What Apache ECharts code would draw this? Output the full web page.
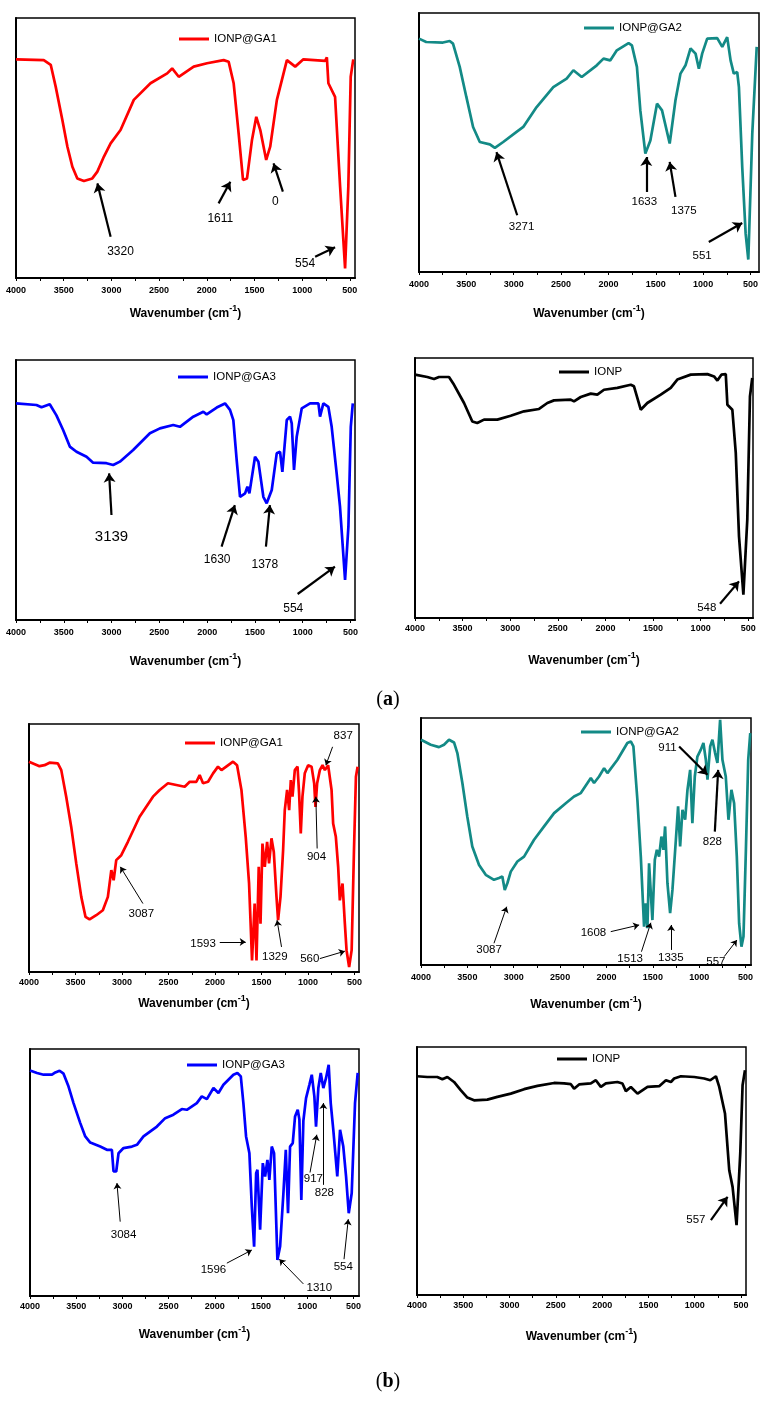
<!DOCTYPE html>
<html><head><meta charset="utf-8">
<script src="https://cdn.jsdelivr.net/npm/echarts@6/dist/echarts.min.js"></script>
<style>html,body{margin:0;padding:0;background:#fff}#c{width:769px;height:1401px}</style>
</head><body><div id="c"></div>
<script>
// ---------- tick labels ----------
const X_TICK_LABELS = [500,1000,1500,2000,2500,3000,3500,4000];
const X_MINOR_TICKS = [500,750,1000,1250,1500,1750,2000,2250,2500,2750,3000,3250,3500,3750,4000];

// ---------- series names ----------
const NAMES = ['IONP@GA1','IONP@GA2','IONP@GA3','IONP','IONP@GA1','IONP@GA2','IONP@GA3','IONP'];

// ---------- (a) IONP@GA1 ----------
const A1_WN = [4000,3709,3636,3584,3514,3461,3409,3357,3288,3200,3147,3078,3008,2904,2765,2590,2415,2363,2294,2137,1997,1823,1771,1718,1666,1620,1578,1526,1481,1439,1377,1335,1265,1160,1073,987,759,741,725,655,602,550,516,491,464];
const A1_T  = [84.1,83.8,82,73.6,60.8,50.5,42.8,38.3,37.3,38.3,40.9,46.7,51.8,56.9,68.5,74.9,78.7,80.6,77.4,81.3,82.6,83.8,83.2,74.9,55.6,37.7,38.3,53.1,62,56.9,45.4,50.5,68.5,83.8,81.3,84.1,83.5,84.9,74.9,69.7,35.1,3.7,35.1,77.4,84.1];
const A1_LABELS = [['3320',2904,10.1],['1611',1858,23.0],['0',1282,29.3],['554',969,5.6]];
const A1_ARROWS = [[3008,15.9,3147,36.4],[1876,28.7,1753,37.0],[1202,33.2,1300,44.1],[864,8.2,655,11.8]];

// ---------- (a) IONP@GA2 ----------
const A2_WN = [4000,3924,3747,3676,3641,3570,3500,3429,3358,3252,3199,3111,2970,2899,2758,2582,2441,2370,2282,2123,2052,1981,1911,1787,1752,1699,1663,1610,1557,1487,1434,1353,1292,1239,1186,1133,1080,1045,1010,957,851,798,746,710,676,640,622,587,551,523,481,434];
const A2_T  = [90.1,88.8,88.6,89.2,88.2,79.2,67.6,56,50.2,49.3,47.9,50.2,54.1,56,63.7,71.4,74.7,77.9,75.3,79.8,82.4,81.7,85.6,88.4,87.5,79.2,62.4,45.7,50.8,65,62.4,49.6,66.3,76.6,79.8,86.3,84.3,78.5,84.3,90.1,90.3,86.9,90.7,81.7,76.6,77.2,71.4,40.5,14.8,4.8,53.4,86.9];
const A2_LABELS = [['3271',2917,17.4],['1633',1621,27],['1375',1204,23.8],['551',1011,6.4]];
const A2_ARROWS = [[2963,21.9,3182,46.3],[1600,30.9,1600,44.4],[1292,29,1353,42.5],[940,11.6,587,18.9]];

// ---------- (a) IONP@GA3 ----------
const A3_WN = [4000,3786,3733,3647,3577,3507,3437,3367,3262,3193,3053,2983,2913,2774,2599,2494,2355,2285,2145,2040,2005,1900,1813,1761,1726,1691,1656,1603,1579,1558,1499,1464,1412,1377,1324,1272,1237,1213,1167,1133,1115,1091,1063,1010,923,836,819,784,732,697,680,645,610,557,522,497,476];
const A3_T  = [83.3,82.7,81.8,83,78.7,73.1,66.7,64.7,62.8,60.5,60.3,59.6,60.9,65.4,71.8,73.7,75,74.3,78.2,80.1,79.1,81.7,83.3,80.8,76.9,61.5,47.4,48.7,51.3,48.7,62.8,60.9,47.4,44.9,50,64.1,64.7,57,76.9,78.2,75.6,57.7,70.5,81.4,83.3,83.3,78.2,83.3,82,74.3,74.6,56.4,43.6,15.4,35.9,74.3,83.3];
const A3_LABELS = [['3139',3001,32],['1630',1895,23.1],['1378',1396,21.2],['554',1099,4.5]];
const A3_ARROWS = [[3001,40.4,3026,56.4],[1849,28.2,1710,44.2],[1385,28.2,1343,44.2],[1053,10,663,20.5]];

// ---------- (a) IONP ----------
const A4_WN = [4000,3871,3800,3748,3643,3590,3485,3398,3346,3275,3135,2995,2855,2697,2610,2540,2365,2330,2259,2154,2085,2015,1875,1734,1700,1629,1560,1419,1314,1245,1104,929,859,824,782,736,719,667,631,597,551,510,482,458];
const A4_T  = [93.6,92.7,91.9,92.7,92.7,89.7,82.7,75.6,75,76.3,76.3,77.8,79.5,80.4,82.7,83.7,84,83.3,85,86.3,85.9,87.8,88.5,89.7,89.1,80.1,82.7,85.9,88.5,91.7,93.6,93.8,92.9,91.3,93.6,93.8,82,80.1,63.5,31.4,9,37.8,85.2,92.3];
const A4_LABELS = [['548',936,3.8]];
const A4_ARROWS = [[796,5.5,597,14.1]];

// ---------- (b) IONP@GA1 ----------
const B1_WN = [4000,3887,3833,3779,3690,3653,3600,3546,3492,3438,3392,3349,3277,3206,3152,3115,3090,3062,3008,2937,2811,2667,2595,2506,2416,2326,2272,2200,2165,2129,2075,2021,1968,1931,1806,1763,1716,1670,1634,1602,1574,1554,1530,1511,1490,1465,1440,1419,1393,1368,1339,1322,1296,1268,1250,1225,1203,1185,1167,1142,1113,1096,1078,1060,1035,999,962,934,920,902,873,844,819,784,747,730,701,676,658,629,604,586,558,531,506,485,467];
const B1_T  = [84.8,83,83.4,84.4,84.1,81.4,70.7,58.5,43.8,30.3,22.2,21.2,22.9,24.9,30.3,41.1,37,45.1,47.1,52.5,62.6,70.7,73.4,76.1,75.4,74.7,76.7,76.7,79.4,76.1,76.7,80.1,82.8,81.4,84.8,83.4,73.4,54.5,35.7,4.7,27.6,4.7,42.4,19.5,51.8,42.4,52.5,43.8,53.9,48.4,30.3,20.9,30.3,49.1,65.3,73.4,65.3,77.4,70.7,81.4,82.8,72,55.9,70.7,80.1,83.4,82.8,76.1,66.6,76.1,81.4,83.4,81.4,83.4,73.4,59.9,54.5,42.4,28.9,35.7,19.5,8.8,2,8.8,49.1,78.7,82.8];
const B1_LABELS = [['3087',2792,23.6],['1593',2129,11.5],['1329',1357,6.3],['560',981,5.4],['904',909,46.4],['837',622,95.2]];
const B1_ARROWS_THIN = [[2775,27.6,3018,42.4],[1949,12.1,1670,12.1],[1285,10.1,1333,20.9],[873,5.4,604,8.4],[902,49.8,916,70.7],[736,90.8,808,83.4]];

// ---------- (b) IONP@GA2 ----------
const B2_WN = [4000,3895,3806,3752,3698,3644,3608,3554,3501,3447,3374,3302,3213,3159,3123,3097,3069,3032,2961,2889,2781,2673,2565,2439,2350,2277,2169,2134,2080,2026,1990,1882,1775,1738,1710,1667,1630,1595,1577,1559,1541,1505,1479,1457,1433,1408,1386,1368,1343,1314,1289,1252,1228,1206,1181,1152,1127,1098,1074,1048,1020,983,955,929,911,882,858,829,804,775,750,714,685,653,624,595,570,545,523,497,472,450];
const B2_T  = [91.2,89.2,88.2,89.2,91.2,90.1,85.8,73.7,60.1,48,40.5,36.5,34.5,35.2,35.8,30.4,33.1,37.8,41.9,43.9,50.7,56.1,61.5,65.5,68.2,69.6,75.7,73.7,76.3,79.7,77.7,83.1,89.9,90.5,88.5,66.9,43.9,15.5,25,14.9,41.2,18.2,42.6,46.6,43.9,52,46.6,56.1,33.1,21,30.4,50.7,64.2,48,62.8,58.8,70.9,79,57.4,76.3,84.4,87.2,89.9,83.1,75,88.5,91.2,85.8,81.8,99.3,83.1,76.3,58.8,70.9,65.5,43.9,16.9,7.4,11.5,46.6,83.1,93.9];
const B2_LABELS = [['3087',3266,6.1],['1608',2141,13.1],['1513',1745,2.3],['1335',1306,3.1],['557',821,1.3],['911',1343,87.8],['828',858,50]];
const B2_ARROWS_THIN = [[3213,8.8,3076,23.6],[1954,13.5,1648,16.2],[1623,5.4,1522,17.1],[1303,6.1,1303,16.2],[731,3.4,594,10.1]];
const B2_ARROWS = [[1217,88.5,912,77],[832,54,796,79]];

// ---------- (b) IONP@GA3 ----------
const B3_WN = [4000,3924,3853,3762,3726,3680,3637,3583,3529,3456,3402,3348,3240,3168,3114,3096,3067,3042,2988,2897,2843,2772,2627,2537,2448,2357,2303,2195,2141,2086,2015,1961,1907,1799,1756,1719,1691,1662,1626,1600,1575,1553,1539,1510,1481,1456,1431,1410,1384,1359,1323,1294,1258,1232,1208,1186,1157,1132,1103,1085,1064,1042,1013,977,951,923,905,880,854,826,797,768,746,718,675,645,610,580,551,519,483,454];
const B3_T  = [91.3,90.3,89.6,89.6,90.5,91.2,90,84.8,78.1,70,64.6,62.1,60.5,59.2,59.2,50.4,50.4,57.8,59.9,60.5,61.2,64.6,68.6,72,73.4,75.7,75.4,78.1,80.8,79.7,84.2,82.2,85.5,89.6,90.3,88.9,78.1,64.6,57.8,36.2,20,49.7,51.1,26.8,53.8,48.4,55.1,47,60.5,57.8,14.6,20,41.6,59.2,33.5,60.5,61.9,72.7,75.4,71.5,38.9,70.9,80.1,85.5,89.6,80.8,68.6,84.2,90.3,84.2,88.2,93.6,78.1,67.3,48.4,67.3,60.5,48.4,33.5,41.6,78.1,90.3];
const B3_LABELS = [['3084',2988,24.7],['1596',2015,10.5],['1310',869,3.5],['917',934,47.3],['828',815,41.9],['554',610,11.9]];
const B3_ARROWS_THIN = [[3024,30.1,3059,45.7],[1870,13.3,1600,18.6],[1042,4.9,1302,14.9],[970,50,897,65.3],[826,45,826,78.1],[602,14.9,556,31.1]];

// ---------- (b) IONP ----------
const B4_WN = [4000,3889,3781,3726,3672,3600,3528,3456,3384,3240,3132,2987,2843,2699,2519,2411,2338,2303,2249,2122,2068,2014,1960,1835,1781,1744,1690,1618,1510,1384,1311,1257,1222,1149,1005,897,832,771,735,673,627,591,548,508,483,457];
const B4_T  = [88.2,87.9,87.9,87,87.9,85.9,82.6,79.6,78.5,78.8,79.9,81.2,83,84.3,85.5,85.3,85,83.2,84.9,85.3,86.6,83.9,85.3,85.9,85.3,82.2,83.9,81.2,83.9,84.2,86.6,85.9,87.3,88.2,87.9,87.3,86.6,88.2,83.9,73.2,50.3,43.6,28.2,57.1,84.6,90.6];
const B4_LABELS = [['557',987,30.5]];
const B4_ARROWS = [[825,30.2,645,39.6]];

// ---------- panel assembly ----------
const PANELS = [
  {wn:A1_WN, t:A1_T, labels:A1_LABELS, bold:A1_ARROWS, thin:[]},
  {wn:A2_WN, t:A2_T, labels:A2_LABELS, bold:A2_ARROWS, thin:[]},
  {wn:A3_WN, t:A3_T, labels:A3_LABELS, bold:A3_ARROWS, thin:[]},
  {wn:A4_WN, t:A4_T, labels:A4_LABELS, bold:A4_ARROWS, thin:[]},
  {wn:B1_WN, t:B1_T, labels:B1_LABELS, bold:[], thin:B1_ARROWS_THIN},
  {wn:B2_WN, t:B2_T, labels:B2_LABELS, bold:B2_ARROWS, thin:B2_ARROWS_THIN},
  {wn:B3_WN, t:B3_T, labels:B3_LABELS, bold:[], thin:B3_ARROWS_THIN},
  {wn:B4_WN, t:B4_T, labels:B4_LABELS, bold:B4_ARROWS, thin:[]}
];

// layout / style (separate from data)
const LAYOUT = [
  {left:16,  top:18,   width:339, height:260, min:446, gap:26, lm:8, lg:[179,33],   color:'#ff0000', fs:12},
  {left:419, top:13,   width:340, height:259, min:410, gap:32, lm:8, lg:[584,22],   color:'#138a86', fs:11.5},
  {left:16,  top:360,  width:339, height:260, min:453, gap:32, lm:8, lg:[178,371],  color:'#0000ff', fs:12, big:'3139'},
  {left:415, top:358,  width:338, height:260, min:450, gap:33, lm:6, lg:[559,366],  color:'#000000', fs:11.5},
  {left:29,  top:724,  width:330, height:248, min:452, gap:22, lm:6, lg:[185,737],  color:'#ff0000', fs:11.5},
  {left:421, top:718,  width:330, height:247, min:442, gap:30, lm:8, lg:[581,726],  color:'#138a86', fs:11.5},
  {left:30,  top:1049, width:329, height:247, min:440, gap:29, lm:6, lg:[187,1059], color:'#0000ff', fs:11.5},
  {left:417, top:1047, width:329, height:248, min:446, gap:32, lm:6, lg:[557,1053], color:'#000000', fs:11.5}
];

const FONT = 'Liberation Sans, Arial, sans-serif';
const grids = [], xAxes = [], yAxes = [], series = [], legends = [];

function arrowItems(list, width, head) {
  return list.map(a => [
    {coord:[a[0], a[1]], symbol:'none', lineStyle:{color:'#000', width:width, type:'solid'}},
    {coord:[a[2], a[3]], symbol:'arrow', symbolSize:head}
  ]);
}

PANELS.forEach((p, i) => {
  const L = LAYOUT[i];
  grids.push({left:L.left, top:L.top, width:L.width, height:L.height, show:true,
    borderColor:'#000', borderWidth:1.5, backgroundColor:'transparent', containLabel:false});
  xAxes.push({
    type:'value', gridIndex:i, inverse:true, min:L.min, max:4000,
    name:'{b|Wavenumber} {b|(cm}{s|-1}{b|)}', nameLocation:'middle', nameGap:L.gap,
    nameTextStyle:{rich:{
      b:{fontFamily:FONT, fontWeight:'bold', fontSize:12, color:'#000', verticalAlign:'bottom'},
      s:{fontFamily:FONT, fontWeight:'bold', fontSize:9, color:'#000', verticalAlign:'bottom', padding:[0,0,7,0]}
    }},
    axisLine:{show:true, onZero:false, lineStyle:{color:'#000', width:2}},
    axisTick:{show:true, inside:false, length:3, customValues:X_MINOR_TICKS, lineStyle:{color:'#000', width:1}},
    axisLabel:{show:true, customValues:X_TICK_LABELS, formatter:v => String(v), margin:L.lm,
      fontFamily:FONT, fontWeight:'bold', fontSize:9, color:'#000'},
    splitLine:{show:false}
  });
  yAxes.push({
    type:'value', gridIndex:i, min:0, max:100,
    axisLine:{show:true, lineStyle:{color:'#000', width:2}},
    axisTick:{show:false}, axisLabel:{show:false}, splitLine:{show:false}
  });
  const markLineData = arrowItems(p.bold, 2.2, 9).concat(arrowItems(p.thin, 1, 6));
  series.push({
    type:'line', name:NAMES[i], xAxisIndex:i, yAxisIndex:i,
    data:p.wn.map((w, k) => [w, p.t[k]]),
    symbol:'none', showSymbol:false, smooth:false,
    lineStyle:{color:L.color, width:2.7}, itemStyle:{color:L.color},
    emphasis:{disabled:true},
    markLine:{silent:true, animation:false, symbol:['none','arrow'], label:{show:false},
      emphasis:{disabled:true}, data:markLineData},
    markPoint:{silent:true, animation:false,
      data:p.labels.map(l => ({
        coord:[l[1], l[2]], symbol:'circle', symbolSize:1, itemStyle:{color:'rgba(0,0,0,0)'},
        label:{show:true, position:'inside', formatter:l[0], color:'#000', fontFamily:FONT,
          fontSize:(L.big === l[0] ? 15 : L.fs)}
      }))
    }
  });
  legends.push({
    left:L.lg[0], top:L.lg[1], padding:0, itemWidth:30, itemHeight:3, selectedMode:false,
    data:[{name:NAMES[i], icon:'rect', itemStyle:{color:L.color}}],
    textStyle:{fontFamily:FONT, fontSize:11.5, color:'#000'}
  });
});

const chart = echarts.init(document.getElementById('c'), null, {renderer:'canvas'});
chart.setOption({
  animation:false,
  backgroundColor:'#ffffff',
  grid:grids, xAxis:xAxes, yAxis:yAxes, series:series, legend:legends,
  graphic:[
    {type:'text', x:388, y:700, style:{text:'{p|(}{b|a}{p|)}', textAlign:'center', textVerticalAlign:'middle',
      rich:{p:{fontFamily:'Liberation Serif', fontSize:20, color:'#000'}, b:{fontFamily:'Liberation Serif', fontSize:20, fontWeight:'bold', color:'#000'}}}},
    {type:'text', x:388, y:1382, style:{text:'{p|(}{b|b}{p|)}', textAlign:'center', textVerticalAlign:'middle',
      rich:{p:{fontFamily:'Liberation Serif', fontSize:20, color:'#000'}, b:{fontFamily:'Liberation Serif', fontSize:20, fontWeight:'bold', color:'#000'}}}}
  ]
});
</script>
</body></html>
